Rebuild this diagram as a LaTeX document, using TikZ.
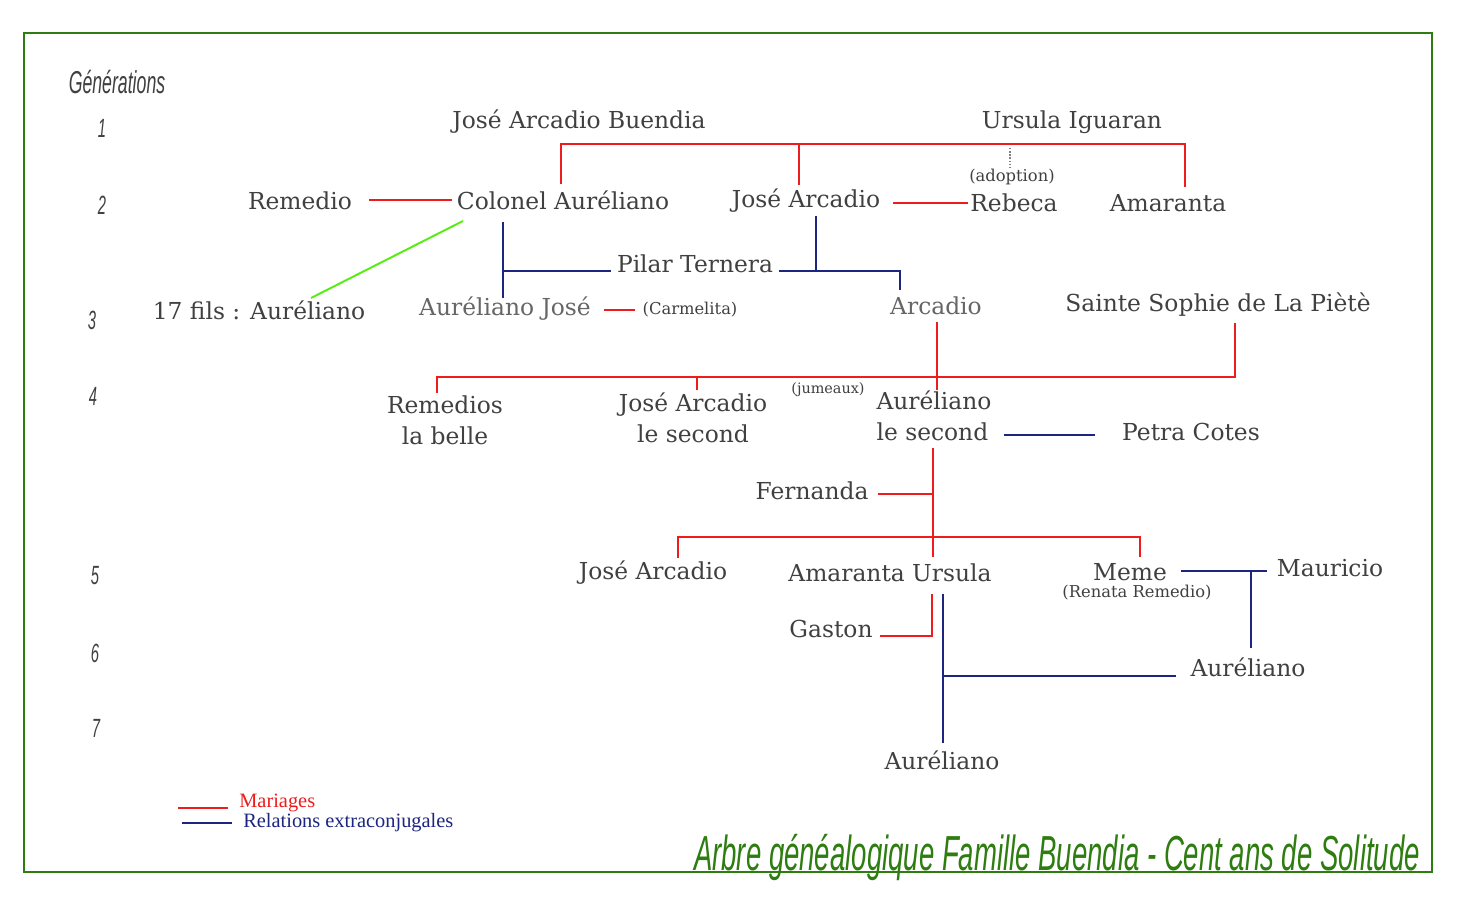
\documentclass[tikz,border=0pt]{standalone}
\usepackage{fontspec}
\setmainfont{DejaVu Serif}
\newfontfamily\legfont{Liberation Serif}
\newfontfamily\handfont{Liberation Sans}
\usetikzlibrary{positioning}

\definecolor{txtgray}{HTML}{404040}
\definecolor{lightgray}{HTML}{666666}
\definecolor{marred}{HTML}{EE1C1C}
\definecolor{extblue}{HTML}{1C2580}
\definecolor{sonsgreen}{HTML}{55EE11}
\definecolor{framegreen}{HTML}{2E7D10}

\newcommand{\hand}[1]{\scalebox{0.56}[1]{\handfont\itshape #1}}

\tikzset{
  person/.style={text=txtgray,font=\fontsize{13.3}{17.6}\selectfont,align=center},
  faded/.style={person,text=lightgray},
  note/.style={text=txtgray,font=\fontsize{9.3}{10}\selectfont},
  gen/.style={text=txtgray,font=\fontsize{15}{16}\selectfont},
  mar/.style={marred,line width=1.1pt},
  ext/.style={extblue,line width=1.1pt},
  sons/.style={sonsgreen,line width=1.1pt},
  adopt/.style={gray,densely dotted,line width=0.8pt}
}

\begin{document}
\begin{tikzpicture}[x=0.02cm,y=-0.02cm]
  \useasboundingbox[fill=white] (0,0) rectangle (1463,911);
  \draw[framegreen,line width=1.2pt] (24,33) rectangle (1432,872);

  % generations
  \node[gen,font=\fontsize{18}{19}\selectfont] (gens) at (117,82) {\hand{Générations}};
  \node[gen] (g1) at (102,128) {\hand{1}};
  \node[gen] (g2) at (102,205) {\hand{2}};
  \node[gen] (g3) at (92,320) {\hand{3}};
  \node[gen] (g4) at (93,396) {\hand{4}};
  \node[gen] (g5) at (95,576) {\hand{5}};
  \node[gen] (g6) at (95,653) {\hand{6}};
  \node[gen] (g7) at (96,728) {\hand{7}};

  % people
  \node[person] (jab) at (579,122) {José Arcadio Buendia};
  \node[person] (ursula) at (1072,122) {Ursula Iguaran};
  \node[note] (adoption) at (1012,177) {(adoption)};
  \node[person] (remedio) at (300,201) {Remedio};
  \node[person] (colonel) at (563,200) {Colonel Auréliano};
  \node[person] (ja2) at (806,201) {José Arcadio};
  \node[person] (rebeca) at (1014,203) {Rebeca};
  \node[person] (amaranta) at (1168,203) {Amaranta};
  \node[person] (pilar) at (695,264) {Pilar Ternera};
  \node[person] (fils) at (259,310) {17 fils : Auréliano};
  \node[faded] (aurjose) at (505,309) {Auréliano José};
  \node[note] (carmelita) at (690,310) {(Carmelita)};
  \node[faded] (arcadio) at (936,306) {Arcadio};
  \node[person] (sophie) at (1218,305) {Sainte Sophie de La Piètè};
  \node[note,font=\fontsize{8.2}{9}\selectfont] (jumeaux) at (828,390) {(jumeaux)};
  \node[person] (remedios) at (445,420) {Remedios\\la belle};
  \node[person] (jasecond) at (693,418) {José Arcadio\\le second};
  \node[person,align=left] (aursecond) at (934,416) {Auréliano\\le second};
  \node[person] (petra) at (1191,432) {Petra Cotes};
  \node[person] (fernanda) at (812,491) {Fernanda};
  \node[person] (ja5) at (653,573) {José Arcadio};
  \node[person] (amursula) at (890,573) {Amaranta Ursula};
  \node[person] (meme) at (1130,572) {Meme};
  \node[note] (renata) at (1137,593) {(Renata Remedio)};
  \node[person] (mauricio) at (1330,568) {Mauricio};
  \node[person] (gaston) at (831,629) {Gaston};
  \node[person] (aur6) at (1248,667) {Auréliano};
  \node[person] (aur7) at (942,760) {Auréliano};

  % joints
  \coordinate (colUp) at (561,184);
  \coordinate (barA) at (561,144);
  \coordinate (barB) at (1050,144);
  \coordinate (barC) at (1185,144);
  \coordinate (amaUp) at (1185,187);
  \coordinate (jaUp) at (799,185);
  \coordinate (adTop) at (1010,148);
  \coordinate (adBot) at (1010,168);
  \coordinate (remR) at (369,200);
  \coordinate (colL) at (452,200);
  \coordinate (jaR) at (893,203);
  \coordinate (rebL) at (968,203);
  \coordinate (colLow) at (463,221);
  \coordinate (filsUp) at (311,298);
  \coordinate (colDown) at (503,222);
  \coordinate (ajUp) at (503,298);
  \coordinate (pilL) at (611,271);
  \coordinate (pilR) at (779,271);
  \coordinate (jaDown) at (816,216);
  \coordinate (arcUp) at (900,290);
  \coordinate (ajR) at (604,310);
  \coordinate (carmL) at (635,310);
  \coordinate (arcDown) at (937,322);
  \coordinate (sophDown) at (1235,323);
  \coordinate (bar4R) at (1235,377);
  \coordinate (bar4L) at (437,377);
  \coordinate (remUp) at (437,393);
  \coordinate (jasUp) at (697,390);
  \coordinate (aurUp) at (937,390);
  \coordinate (aurR) at (1004,435);
  \coordinate (petL) at (1095,435);
  \coordinate (aurDown) at (933,448);
  \coordinate (ferR) at (878,494);
  \coordinate (bar5L) at (678,537);
  \coordinate (bar5R) at (1140,537);
  \coordinate (ja5Up) at (678,558);
  \coordinate (memeUp) at (1140,557);
  \coordinate (amuUp) at (933,557);
  \coordinate (amuDown) at (932,594);
  \coordinate (gasR) at (880,636);
  \coordinate (amuDownB) at (943,594);
  \coordinate (aur7Up) at (943,743);
  \coordinate (aur6L) at (1176,676);
  \coordinate (memeR) at (1181,571);
  \coordinate (mauL) at (1267,571);
  \coordinate (aur6Up) at (1251,648);

  % marriages
  \draw[mar,line width=1.6pt] (colUp) -- (barA) -- (barB);
  \draw[mar] (barB) -- (barC) -- (amaUp);
  \draw[mar] (jaUp) -- (jaUp |- barA);
  \draw[adopt] (adTop) -- (adBot);
  \draw[mar] (remR) -- (colL);
  \draw[mar] (jaR) -- (rebL);
  \draw[mar] (ajR) -- (carmL);
  \draw[mar] (arcDown) -- (aurUp);
  \draw[mar] (remUp) -- (bar4L) -- (bar4R) -- (sophDown);
  \draw[mar] (jasUp) -- (jasUp |- bar4L);
  \draw[mar] (aurDown) -- (amuUp);
  \draw[mar] (ferR) -- (ferR -| aurDown);
  \draw[mar] (ja5Up) -- (bar5L) -- (bar5R) -- (memeUp);
  \draw[mar] (amuDown) |- (gasR);

  % extra-marital relations
  \draw[ext] (colDown) -- (ajUp);
  \draw[ext] (colDown |- pilL) -- (pilL);
  \draw[ext] (jaDown) -- (jaDown |- pilR);
  \draw[ext] (pilR) -| (arcUp);
  \draw[ext] (aurR) -- (petL);
  \draw[ext] (memeR) -- (mauL);
  \draw[ext] (aur6Up |- memeR) -- (aur6Up);
  \draw[ext] (amuDownB) -- (aur7Up);
  \draw[ext] (amuDownB |- aur6L) -- (aur6L);

  % sons
  \draw[sons] (colLow) -- (filsUp);

  % legend
  \coordinate (legMarL) at (178,808);
  \coordinate (legMarR) at (228,808);
  \coordinate (legExtL) at (182,823);
  \coordinate (legExtR) at (232,823);
  \draw[mar] (legMarL) -- (legMarR);
  \draw[ext] (legExtL) -- (legExtR);
  \node[anchor=west,text=marred,font=\legfont\fontsize{11.6}{12}\selectfont,inner sep=0pt] (legmar) at (239,803) {Mariages};
  \node[anchor=west,text=extblue,font=\legfont\fontsize{11.6}{12}\selectfont,inner sep=0pt] (legext) at (243,823) {Relations extraconjugales};

  % title
  \node[text=framegreen,font=\fontsize{28}{29}\selectfont,inner sep=0pt] (title) at (1057,857) {\hand{Arbre généalogique Famille Buendia - Cent ans de Solitude}};
\end{tikzpicture}
\end{document}
